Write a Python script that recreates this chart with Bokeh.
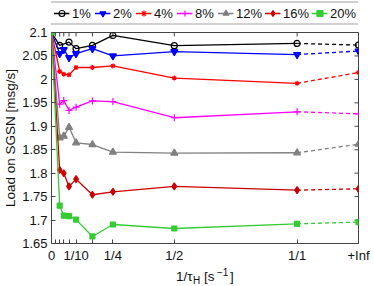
from bokeh.plotting import figure
from bokeh.layouts import column
from bokeh.models import (Range1d, FixedTicker, Legend, LegendItem,
                          CustomJSTickFormatter)
from bokeh.core.properties import value
from bokeh.embed import file_html
from bokeh.resources import INLINE

# ---------------- data ----------------
x_vals = [0, 1/30, 1/20, 1/14, 1/10, 1/6, 1/4, 1/2, 1]
x_vals_1pct = [0, 1/30, 1/14, 1/10, 1/6, 1/4, 1/2, 1]
x_inf = 1.25  # position used for "+Inf"

series_labels = ["1%", "2%", "4%", "8%", "12%", "16%", "20%"]
load_1 = [2.1, 2.0725, 2.0795, 2.0655, 2.0725, 2.0937, 2.0719, 2.0767]
load_2 = [2.1, 2.055, 2.0634, 2.0465, 2.055, 2.0655, 2.05, 2.0592, 2.0529]
load_4 = [2.1, 2.0169, 2.0112, 2.0097, 2.0254, 2.0254, 2.0288, 2.0027, 1.9915]
load_8 = [2.1, 1.9471, 1.9548, 1.9337, 1.9408, 1.9541, 1.9527, 1.9182, 1.9309]
load_12 = [2.1, 1.8753, 1.8790, 1.8977, 1.8647, 1.8611, 1.8448, 1.8427, 1.8435]
load_16 = [2.1, 1.8068, 1.7998, 1.7717, 1.7872, 1.7540, 1.7603, 1.7717, 1.7638]
load_20 = [2.1, 1.7307, 1.7095, 1.7082, 1.7010, 1.6650, 1.6905, 1.6820, 1.6920]
load_inf = [2.0732, 2.0605, 2.0148, 1.9266, 1.8617, 1.7666, 1.6956]

x_tick_vals = [0, 0.1, 0.25, 0.5, 1, 1.25]
x_tick_labels = ["0", "1/10", "1/4", "1/2", "1/1", "+Inf"]
x_minor_ticks = [1/60, 1/30, 1/20, 1/14, 1/6]
y_tick_vals = [1.65, 1.7, 1.75, 1.8, 1.85, 1.9, 1.95, 2.0, 2.05, 2.1]
y_tick_labels = ["1.65", "1.7", "1.75", "1.8", "1.85", "1.9", "1.95", "2", "2.05", "2.1"]

colors = ["#000000", "#0000ff", "#ff0000", "#ff00ff", "#808080", "#cc0000", "#33cc33"]
markers = ["circle", "inverted_triangle", "asterisk", "cross", "triangle", "diamond", "square"]
msizes = [6, 7, 5, 7, 7, 7, 5]
mfill = [False, True, True, True, True, True, True]

FONT = "Liberation Sans"
FRAME_L, FRAME_R = 50, 358
FRAME_W, FRAME_H = FRAME_R - FRAME_L, 213
X0, X1, Y0, Y1 = 0, 1.25, 1.65, 2.1
NAN = float("nan")

# ---------------- legend strip (top) ----------------
pl = figure(width=374, height=25, output_backend="svg", toolbar_location=None,
            x_range=Range1d(0, 1), y_range=Range1d(0, 1),
            min_border_left=FRAME_L, min_border_right=374 - FRAME_R,
            min_border_top=0, min_border_bottom=0,
            x_axis_type=None, y_axis_type=None)
pl.grid.visible = False
pl.outline_line_color = None
items = []
for i, lab in enumerate(series_labels):
    c = colors[i]
    # legend proxies (a single NaN point, nothing is drawn in the strip itself)
    lr = pl.line(x=[NAN], y=[NAN], line_color=c, line_width=1.3)
    sr = pl.scatter(x=[NAN], y=[NAN], marker=markers[i], size=msizes[i], line_color=c,
                    fill_color=(c if mfill[i] else None), line_width=1.2)
    items.append(LegendItem(label=lab, renderers=[lr, sr]))
legend = Legend(items=items, orientation="horizontal", location="center",
                glyph_width=16, glyph_height=15, label_height=15, label_standoff=3,
                spacing=2, padding=3, margin=0, border_line_color="#444444",
                label_text_font=FONT, label_text_font_size="13px",
                label_text_color="#111111", background_fill_color="white")
pl.add_layout(legend)

# ---------------- main plot ----------------
p = figure(width=374, height=240, output_backend="svg", toolbar_location=None,
           x_range=Range1d(X0, X1), y_range=Range1d(Y0, Y1),
           min_border_left=FRAME_L, min_border_right=374 - FRAME_R, min_border_top=7,
           min_border_bottom=20)
p.grid.visible = False
p.outline_line_color = "#444444"
p.outline_line_width = 1
p.background_fill_color = "white"

fmt_code = """
for (let i = 0; i < vals.length; i++) {
  if (Math.abs(tick - vals[i]) < 1e-9) { return labs[i]; }
}
return "";
"""
x_fmt = CustomJSTickFormatter(args=dict(vals=x_tick_vals, labs=x_tick_labels), code=fmt_code)
y_fmt = CustomJSTickFormatter(args=dict(vals=y_tick_vals, labs=y_tick_labels), code=fmt_code)

for ax in (p.xaxis[0], p.yaxis[0]):
    ax.axis_line_color = None
    ax.major_tick_in = 4
    ax.major_tick_out = 0
    ax.minor_tick_in = 4
    ax.minor_tick_out = 0
    ax.major_tick_line_color = "#444444"
    ax.minor_tick_line_color = "#444444"
    ax.major_label_text_font = FONT
    ax.major_label_text_font_size = "13px"
    ax.major_label_text_color = "#111111"
    ax.major_label_standoff = 4

p.xaxis[0].ticker = FixedTicker(ticks=x_tick_vals, minor_ticks=x_minor_ticks)
p.xaxis[0].formatter = x_fmt
p.yaxis[0].ticker = FixedTicker(ticks=y_tick_vals, minor_ticks=[])
p.yaxis[0].formatter = y_fmt
p.yaxis[0].axis_label = "Load on SGSN [msg/s]"
p.yaxis[0].axis_label_text_font = FONT
p.yaxis[0].axis_label_text_font_size = "13.5px"
p.yaxis[0].axis_label_text_font_style = "normal"
p.yaxis[0].axis_label_text_color = "#111111"
p.yaxis[0].axis_label_standoff = 1

# mirrored inward ticks on the top and right edges of the box
tick_len_x = 4 * (X1 - X0) / FRAME_W
tick_len_y = 4 * (Y1 - Y0) / FRAME_H
top_ticks = x_tick_vals + x_minor_ticks
p.segment(x0=top_ticks, y0=[Y1] * len(top_ticks), x1=top_ticks,
          y1=[Y1 - tick_len_y] * len(top_ticks), line_color="#444444", line_width=1)
p.segment(x0=[X1] * len(y_tick_vals), y0=y_tick_vals,
          x1=[X1 - tick_len_x] * len(y_tick_vals), y1=y_tick_vals,
          line_color="#444444", line_width=1)

all_loads = [load_1, load_2, load_4, load_8, load_12, load_16, load_20]
for i, lab in enumerate(series_labels):
    xs = x_vals_1pct if i == 0 else x_vals
    ys = all_loads[i]
    c = colors[i]
    p.line(xs, ys, line_color=c, line_width=1.3)
    p.line([xs[-1], x_inf], [ys[-1], load_inf[i]], line_color=c, line_width=1.3,
           line_dash="4 3")
    p.scatter(xs + [x_inf], ys + [load_inf[i]], marker=markers[i], size=msizes[i],
              line_color=c, fill_color=(c if mfill[i] else None), line_width=1.2)

# ---------------- x-axis title strip (bottom) ----------------
pt = figure(width=374, height=21, output_backend="svg", toolbar_location=None,
            x_range=Range1d(FRAME_L, FRAME_R), y_range=Range1d(0, 21),
            min_border_left=FRAME_L, min_border_right=374 - FRAME_R,
            min_border_top=0, min_border_bottom=0,
            x_axis_type=None, y_axis_type=None)
pt.grid.visible = False
pt.outline_line_color = None
title_text = ["1/τ", "H", "[s", "−1", "]"]
title_x = [175, 192, 203, 216, 229]
title_y = [10, 6, 10, 15, 10]
title_size = ["13.5px", "10px", "13.5px", "10px", "13.5px"]
for t, tx, ty, fs in zip(title_text, title_x, title_y, title_size):
    pt.text(x=[tx], y=[ty], text=[t], text_font=value(FONT), text_font_size=fs,
            text_align="left", text_baseline="alphabetic", text_color="#111111")

layout = column(pl, p, pt, spacing=0)
open("out.html", "w").write(file_html(layout, INLINE))
